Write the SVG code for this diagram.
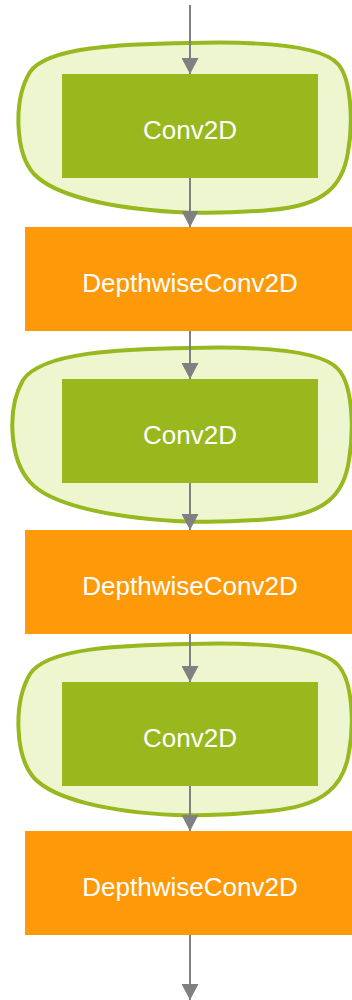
<svg xmlns="http://www.w3.org/2000/svg" width="352" height="1000" viewBox="0 0 352 1000">
<style>
.blob{fill:#eef6d0;stroke:#97b81e;stroke-width:4}
.conv{fill:#98b81e}
.dw{fill:#fe9a0a}
.lbl{font-family:"Liberation Sans",Arial,sans-serif;font-size:26px;fill:#ffffff;text-anchor:middle}
.edge{stroke:#808080;stroke-width:2;fill:none;marker-end:url(#arr)}
</style>
<defs>
<marker id="arr" markerUnits="userSpaceOnUse" markerWidth="17" markerHeight="17" viewBox="0 0 16 17" refX="16" refY="8.5" orient="auto">
<path d="M0,0 L16,8.5 L0,17 Z" fill="#808080"/>
</marker>
</defs>
<g id="group1">
<path class="blob" d="M190,43 C265,41 322,46 338,64 C352,80 353,125 348,152 C343,185 325,206 270,210 C235,213 210,214 175,212 C110,208 55,196 34,174 C15,153 13,100 30,72 C47,47 120,44 190,43 Z"/>
</g>
<g id="group2">
<path class="blob" d="M190,348 C265,346 322,351 338,369 C353,385 354,430 349,460 C344,495 325,515 270,519 C235,522 210,523 175,521 C110,517 50,505 30,482 C10,460 6,410 23,380 C42,352 120,349 190,348 Z"/>
</g>
<g id="group3">
<path class="blob" d="M190,644 C265,642 322,647 338,665 C353,681 354,725 349,752 C344,785 325,806 270,811 C235,814 210,816 175,815 C110,812 55,800 34,778 C15,756 13,703 30,674 C47,648 120,645 190,644 Z"/>
</g>
<g id="conv1"><rect class="conv" x="62" y="74" width="256" height="104"/><text class="lbl" x="190" y="139">Conv2D</text></g>
<g id="dw1"><rect class="dw" x="25" y="227" width="330" height="104"/><text class="lbl" x="190" y="292">DepthwiseConv2D</text></g>
<g id="conv2"><rect class="conv" x="62" y="379" width="256" height="104"/><text class="lbl" x="190" y="444">Conv2D</text></g>
<g id="dw2"><rect class="dw" x="25" y="530" width="330" height="104"/><text class="lbl" x="190" y="595">DepthwiseConv2D</text></g>
<g id="conv3"><rect class="conv" x="62" y="682" width="256" height="104"/><text class="lbl" x="190" y="747">Conv2D</text></g>
<g id="dw3"><rect class="dw" x="25" y="831" width="330" height="104"/><text class="lbl" x="190" y="896">DepthwiseConv2D</text></g>
<g id="connectors">
<line class="edge" x1="190" y1="5" x2="190" y2="74"/>
<line class="edge" x1="190" y1="178" x2="190" y2="227"/>
<line class="edge" x1="190" y1="331" x2="190" y2="379"/>
<line class="edge" x1="190" y1="483" x2="190" y2="530"/>
<line class="edge" x1="190" y1="634" x2="190" y2="682"/>
<line class="edge" x1="190" y1="786" x2="190" y2="831"/>
<line class="edge" x1="190" y1="935" x2="190" y2="1000"/>
</g>
</svg>
